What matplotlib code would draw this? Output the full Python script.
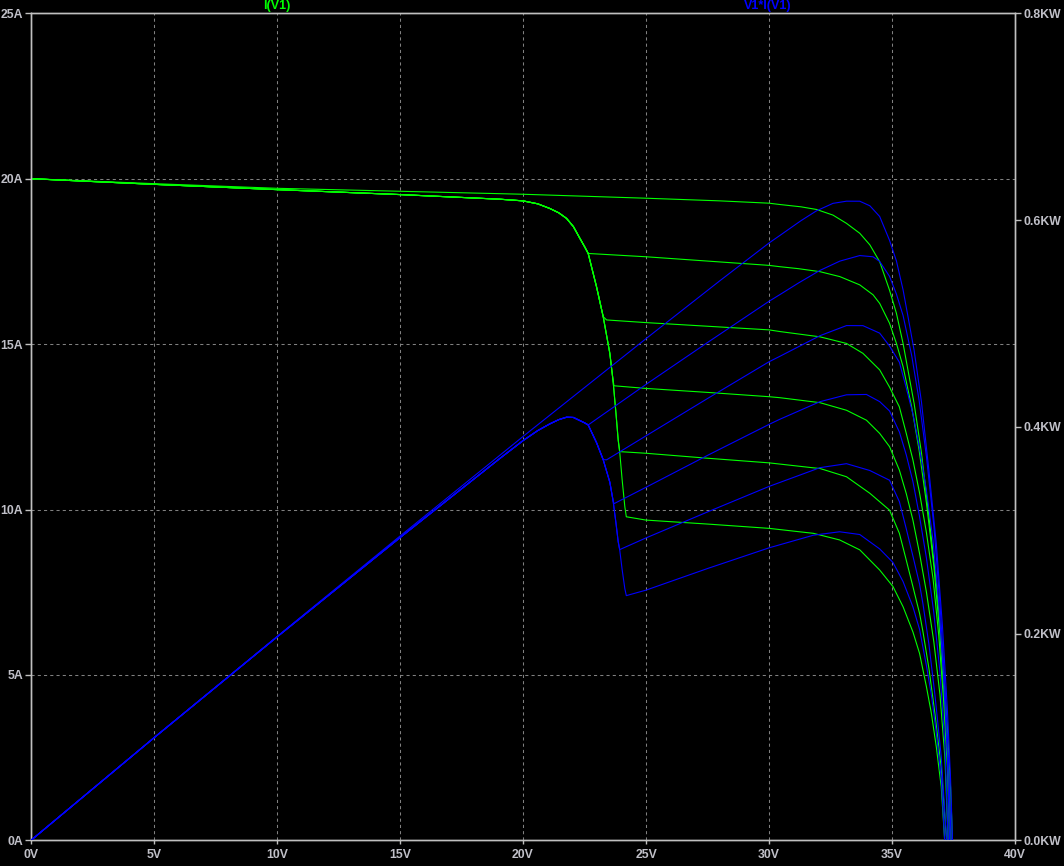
import matplotlib
matplotlib.use("Agg")
import matplotlib.pyplot as plt
import numpy as np

# ---------------- data ----------------
# Unshaded curve: current I(V1) [A] vs voltage [V]
top_v = [0, 5, 10, 15, 20, 25, 28, 30, 30.44, 31.3, 31.93, 32.6, 33.15, 33.69,
         34.1, 34.5, 34.9, 35.18, 35.45, 35.65, 35.9, 36.2, 36.5, 36.8, 37.05,
         37.25, 37.38, 37.46]
top_i = [20.0, 19.85, 19.71, 19.62, 19.53, 19.41, 19.33, 19.26, 19.22, 19.15,
         19.07, 18.9, 18.65, 18.35, 18.0, 17.49, 16.63, 15.93, 15.02, 14.21,
         13.2, 11.7, 9.8, 7.8, 5.6, 3.4, 1.6, 0.0]

# Shared path of shaded curves (bypass substring) before its breakpoint
shared_v = [0, 5, 10, 15, 19.06, 20.0, 20.6, 21.09, 21.45, 21.77, 22.05, 22.31,
            22.5, 22.65, 22.99, 23.26, 23.53, 23.66, 23.78, 23.87, 23.93,
            24.03, 24.14, 24.2]
shared_i = [20.0, 19.83, 19.67, 19.52, 19.38, 19.33, 19.24, 19.1, 18.97, 18.8,
            18.55, 18.2, 17.95, 17.74, 16.73, 15.83, 14.72, 13.9, 12.9, 12.1,
            11.75, 10.9, 10.08, 9.78]

# Plateau + tail of each shaded curve
c2_v = [22.65, 25.0, 27.5, 30.0, 30.44, 31.2, 32.07, 32.88, 33.69, 34.23, 34.5,
        34.9, 35.18, 35.45, 35.8, 36.1, 36.4, 36.7, 36.95, 37.15, 37.3, 37.40]
c2_i = [17.74, 17.64, 17.51, 17.38, 17.34, 17.28, 17.19, 17.04, 16.79, 16.49,
        16.23, 15.63, 15.02, 14.32, 13.1, 11.8, 10.2, 8.3, 6.2, 4.0, 2.0, 0.0]

c3_v = [23.4, 25.0, 27.5, 30.0, 30.44, 32.07, 33.15, 33.82, 34.5, 34.9, 35.3,
        35.58, 35.85, 36.12, 36.4, 36.67, 36.9, 37.1, 37.25, 37.34]
c3_i = [15.73, 15.65, 15.54, 15.43, 15.38, 15.22, 15.02, 14.72, 14.22, 13.7,
        13.1, 12.3, 11.5, 10.5, 9.3, 7.9, 6.2, 4.2, 2.2, 0.0]

c4_v = [23.7, 25.0, 27.5, 30.0, 30.44, 32.07, 33.15, 33.96, 34.5, 34.9, 35.3,
        35.58, 35.85, 36.12, 36.4, 36.7, 36.95, 37.15, 37.28]
c4_i = [13.74, 13.66, 13.54, 13.41, 13.38, 13.23, 13.0, 12.7, 12.3, 11.9, 11.19,
        10.48, 9.68, 8.67, 7.5, 6.0, 4.4, 2.5, 0.0]

c5_v = [23.93, 25.0, 27.5, 30.0, 31.8, 32.07, 33.15, 34.1, 34.9, 35.3, 35.58,
        35.85, 36.12, 36.26, 36.5, 36.75, 37.0, 37.22]
c5_i = [11.75, 11.7, 11.55, 11.41, 11.26, 11.24, 10.99, 10.49, 9.98, 9.28, 8.47,
        7.67, 6.86, 6.3, 5.2, 3.8, 2.2, 0.0]

c6_v = [24.2, 25.0, 27.5, 30.0, 31.8, 32.87, 33.69, 34.5, 35.04, 35.45, 35.85,
        36.12, 36.4, 36.6, 36.8, 37.0, 37.14]
c6_i = [9.78, 9.68, 9.56, 9.43, 9.28, 9.08, 8.78, 8.17, 7.67, 7.06, 6.3, 5.65,
        4.64, 3.84, 2.83, 1.62, 0.0]

x_ticks = [0, 5, 10, 15, 20, 25, 30, 35, 40]
x_labels = ["0V", "5V", "10V", "15V", "20V", "25V", "30V", "35V", "40V"]
yl_ticks = [0, 5, 10, 15, 20, 25]
yl_labels = ["0A", "5A", "10A", "15A", "20A", "25A"]
yr_ticks = [0, 200, 400, 600, 800]
yr_labels = ["0.0KW", "0.2KW", "0.4KW", "0.6KW", "0.8KW"]

# ---------------- build curves ----------------
curves = [(np.array(top_v), np.array(top_i))]
sv = np.array(shared_v)
si = np.array(shared_i)
for pv, pi in [(c2_v, c2_i), (c3_v, c3_i), (c4_v, c4_i), (c5_v, c5_i), (c6_v, c6_i)]:
    m = si > pi[0] + 0.01
    v = np.concatenate([sv[m], pv])
    i = np.concatenate([si[m], pi])
    curves.append((v, i))

# ---------------- figure ----------------
GREEN = "#00ff00"
BLUE = "#0000ff"
AX_COL = "#c0c0c0"
TXT_COL = "#c0c0c8"
GRID_COL = "#808080"

plt.rcParams['font.family'] = ['Liberation Sans', 'DejaVu Sans']

fig = plt.figure(figsize=(10.64, 8.66), dpi=100, facecolor="black")
ax = fig.add_axes([31 / 1064, 1 - 840.3 / 866, (1015 - 31) / 1064, (840.3 - 13.3) / 866])
ax.set_facecolor("black")
ax2 = ax.twinx()

for v, i in curves:
    ax.plot(v, i, color=GREEN, lw=0.8, zorder=3)
for v, i in curves:
    ax2.plot(v, v * i, color=BLUE, lw=0.8, zorder=3)

ax.set_xlim(0, 40)
ax.set_ylim(0, 25)
ax2.set_ylim(0, 800)

ax.set_xticks(x_ticks)
ax.set_xticklabels(x_labels)
ax.set_yticks(yl_ticks)
ax.set_yticklabels(yl_labels)
ax2.set_yticks(yr_ticks)
ax2.set_yticklabels(yr_labels)

for a in (ax, ax2):
    for s in a.spines.values():
        s.set_color(AX_COL)
        s.set_linewidth(1.0)
    a.tick_params(colors=AX_COL, labelcolor=TXT_COL, length=4.3, width=1.0,
                  labelsize=8.8, direction="out", pad=1.5)
    for lab in a.get_xticklabels() + a.get_yticklabels():
        lab.set_fontweight("bold")

ax.tick_params(axis="x", length=3, pad=3)

# grid lines (dashed) inside
for xv in x_ticks[1:-1]:
    ax.axvline(xv, color=GRID_COL, lw=0.75, ls=(0, (3, 3)), zorder=1)
for yv in yl_ticks[1:-1]:
    ax.axhline(yv, color=GRID_COL, lw=0.75, ls=(0, (3, 3)), zorder=1)

# trace names at the top
fig.text(277 / 1064, 1 - 9.5 / 866, "I(V1)", color=GREEN, ha="center",
         va="baseline", fontsize=9, fontweight="bold")
fig.text(768 / 1064, 1 - 9.5 / 866, "V1*I(V1)", color=BLUE, ha="center",
         va="baseline", fontsize=9, fontweight="bold")

fig.savefig("out.png", dpi=100, facecolor="black")
